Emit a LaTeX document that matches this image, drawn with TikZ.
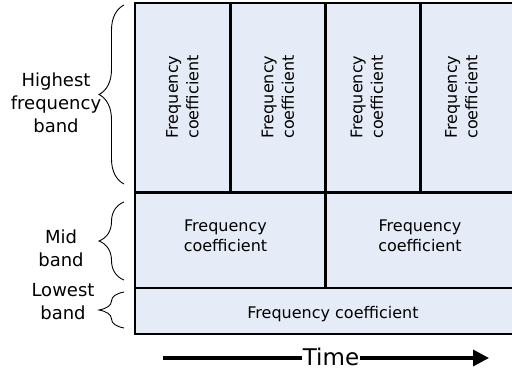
\documentclass[tikz,border=0pt]{standalone}
\usepackage{fontspec}
\setmainfont{DejaVu Sans}
\usetikzlibrary{arrows.meta,decorations.pathreplacing}
\definecolor{cellfill}{HTML}{E6ECF7}
\tikzset{
  grid/.style={line width=2.2pt, draw=black},
  celltext/.style={font=\fontsize{16}{20.5}\selectfont, align=center, inner sep=0pt},
  bandlabel/.style={font=\fontsize{18}{23}\selectfont, align=center, inner sep=0pt},
  bracestyle/.style={decorate, decoration={brace, amplitude=25pt, aspect=0.5}, line width=0.9pt},
  timearrow/.style={line width=3.4pt, -{Triangle[length=16pt,width=16pt]}}
}
\begin{document}
\begin{tikzpicture}[x=1pt,y=1pt]
\useasboundingbox (0,0) rectangle (512,373);
% cells
\fill[cellfill] (135,39) rectangle (520,370);
\draw[grid] (520,370) -- (135,370) -- (135,39) -- (520,39);
\draw[grid] (135,180.5) -- (520,180.5);
\draw[grid] (135,85) -- (520,85);
\draw[grid] (230.5,370) -- (230.5,180.5);
\draw[grid] (325.5,370) -- (325.5,85);
\draw[grid] (420.5,370) -- (420.5,180.5);
% top band texts
\node[celltext, rotate=90] (h1) at (182.5,276) {Frequency\\coefficient};
\node[celltext, rotate=90] (h2) at (278,276) {Frequency\\coefficient};
\node[celltext, rotate=90] (h3) at (367,276) {Frequency\\coefficient};
\node[celltext, rotate=90] (h4) at (461.5,276) {Frequency\\coefficient};
% mid band texts
\node[celltext] (m1) at (225.5,137) {Frequency\\coefficient};
\node[celltext] (m2) at (420,137) {Frequency\\coefficient};
% lowest band text
\node[celltext] (l1) at (333,59) {Frequency coefficient};
% braces
\coordinate (hb) at (124,189);
\coordinate (ht) at (124,368);
\coordinate (mb) at (124,93);
\coordinate (mt) at (124,171);
\coordinate (lb) at (124,45);
\coordinate (lt) at (124,81);
\draw[bracestyle] (hb) -- (ht);
\draw[bracestyle] (mb) -- (mt);
\draw[bracestyle] (lb) -- (lt);
% band labels
\node[bandlabel] (hl) at (56,270) {Highest\\frequency\\band};
\node[bandlabel] (ml) at (61,125) {Mid\\band};
\node[bandlabel] (ll) at (63,71) {Lowest\\band};
% time arrow
\coordinate (ts) at (163,15);
\coordinate (te) at (489,15);
\draw[timearrow] (ts) -- (te);
\node[fill=white, inner sep=1pt, font=\fontsize{23}{27}\selectfont] (time) at (331,16) {Time};
\end{tikzpicture}
\end{document}
